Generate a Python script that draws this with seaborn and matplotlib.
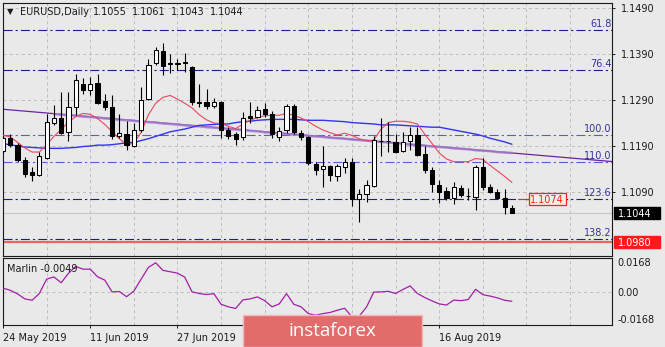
import numpy as np
import matplotlib
matplotlib.use("Agg")
import matplotlib.pyplot as plt
import matplotlib.transforms as mtransforms
from matplotlib.patches import Rectangle
import seaborn as sns

# ---------------- data ----------------
opens = [1.1178, 1.1206, 1.1191, 1.1159, 1.1132, 1.1127, 1.1164, 1.1239, 1.1249, 1.1219,
         1.1275, 1.1324, 1.1310, 1.1327, 1.1287, 1.1274, 1.1211, 1.1215, 1.1189, 1.1224,
         1.1291, 1.1369, 1.1396, 1.1369, 1.1368, 1.1369, 1.1360, 1.1284, 1.1285, 1.1277,
         1.1284, 1.1225, 1.1215, 1.1208, 1.1254, 1.1253, 1.1270, 1.1259, 1.1209, 1.1223,
         1.1276, 1.1217, 1.1209, 1.1151, 1.1140, 1.1145, 1.1124, 1.1144, 1.1154, 1.1075,
         1.1084, 1.1102, 1.1201, 1.1199, 1.1198, 1.1179, 1.1199, 1.1213, 1.1171, 1.1138,
         1.1104, 1.1092, 1.1077, 1.1097, 1.1081, 1.1079, 1.1144, 1.1099, 1.1090, 1.1077,
         1.1055]
highs = [1.1211, 1.1216, 1.1195, 1.1165, 1.1143, 1.1176, 1.1259, 1.1278, 1.1306, 1.1306,
         1.1346, 1.1337, 1.1339, 1.1346, 1.1302, 1.1300, 1.1258, 1.1243, 1.1239, 1.1317,
         1.1379, 1.1404, 1.1412, 1.1390, 1.1379, 1.1391, 1.1362, 1.1324, 1.1312, 1.1293,
         1.1286, 1.1230, 1.1219, 1.1263, 1.1285, 1.1276, 1.1282, 1.1265, 1.1231, 1.1280,
         1.1281, 1.1225, 1.1211, 1.1154, 1.1189, 1.1148, 1.1151, 1.1162, 1.1162, 1.1095,
         1.1115, 1.1211, 1.1249, 1.1241, 1.1216, 1.1219, 1.1230, 1.1230, 1.1189, 1.1143,
         1.1115, 1.1099, 1.1111, 1.1104, 1.1098, 1.1148, 1.1164, 1.1107, 1.1095, 1.1095,
         1.1061]
lows = [1.1174, 1.1187, 1.1154, 1.1122, 1.1114, 1.1124, 1.1161, 1.1235, 1.1215, 1.1200,
        1.1256, 1.1302, 1.1300, 1.1280, 1.1267, 1.1205, 1.1206, 1.1180, 1.1186, 1.1219,
        1.1289, 1.1365, 1.1343, 1.1348, 1.1354, 1.1350, 1.1278, 1.1274, 1.1269, 1.1272,
        1.1206, 1.1205, 1.1191, 1.1202, 1.1240, 1.1249, 1.1252, 1.1206, 1.1199, 1.1217,
        1.1215, 1.1202, 1.1148, 1.1126, 1.1100, 1.1112, 1.1112, 1.1130, 1.1058, 1.1025,
        1.1068, 1.1100, 1.1167, 1.1176, 1.1174, 1.1176, 1.1180, 1.1167, 1.1131, 1.1090,
        1.1066, 1.1072, 1.1064, 1.1079, 1.1072, 1.1050, 1.1093, 1.1086, 1.1073, 1.1042,
        1.1043]
closes = [1.1206, 1.1191, 1.1159, 1.1128, 1.1126, 1.1167, 1.1241, 1.1251, 1.1218, 1.1274,
          1.1332, 1.1311, 1.1324, 1.1283, 1.1274, 1.1211, 1.1218, 1.1192, 1.1225, 1.1290,
          1.1365, 1.1397, 1.1364, 1.1368, 1.1370, 1.1371, 1.1285, 1.1283, 1.1277, 1.1284,
          1.1225, 1.1211, 1.1205, 1.1249, 1.1250, 1.1268, 1.1258, 1.1215, 1.1222, 1.1276,
          1.1219, 1.1209, 1.1152, 1.1138, 1.1145, 1.1126, 1.1145, 1.1154, 1.1073, 1.1084,
          1.1105, 1.1202, 1.1200, 1.1200, 1.1177, 1.1198, 1.1213, 1.1169, 1.1138, 1.1107,
          1.1090, 1.1077, 1.1099, 1.1083, 1.1080, 1.1144, 1.1099, 1.1090, 1.1077, 1.1056,
          1.1044]

# fast moving average (red)
ma_fast = [1.1212, 1.1209, 1.1197, 1.1185, 1.1176, 1.1176, 1.1192, 1.1210, 1.1225, 1.1241,
           1.1253, 1.1260, 1.1258, 1.1249, 1.1236, 1.1220, 1.1205, 1.1192, 1.1195, 1.1219,
           1.1257, 1.1282, 1.1295, 1.1299, 1.1291, 1.1282, 1.1272, 1.1257, 1.1246, 1.1239,
           1.1238, 1.1232, 1.1227, 1.1237, 1.1245, 1.1251, 1.1255, 1.1256, 1.1256, 1.1260,
           1.1256, 1.1250, 1.1242, 1.1232, 1.1224, 1.1218, 1.1213, 1.1217, 1.1212, 1.1205,
           1.1200, 1.1202, 1.1226, 1.1240, 1.1243, 1.1243, 1.1241, 1.1237, 1.1215, 1.1195,
           1.1174, 1.1161, 1.1155, 1.1155, 1.1155, 1.1162, 1.1160, 1.1147, 1.1135, 1.1123,
           1.1110]
# medium moving average (blue)
ma_mid = [1.1194, 1.1192, 1.1189, 1.1187, 1.1186, 1.1185, 1.1184, 1.1184, 1.1184, 1.1185,
          1.1186, 1.1188, 1.1189, 1.1191, 1.1191, 1.1192, 1.1194, 1.1196, 1.1197, 1.1201,
          1.1205, 1.1210, 1.1215, 1.1220, 1.1223, 1.1226, 1.1230, 1.1234, 1.1235, 1.1236,
          1.1237, 1.1237, 1.1240, 1.1242, 1.1243, 1.1245, 1.1246, 1.1247, 1.1247, 1.1247,
          1.1247, 1.1246, 1.1245, 1.1245, 1.1245, 1.1244, 1.1243, 1.1242, 1.1240, 1.1239,
          1.1238, 1.1237, 1.1235, 1.1235, 1.1235, 1.1234, 1.1233, 1.1232, 1.1231, 1.1230,
          1.1230, 1.1227, 1.1224, 1.1221, 1.1218, 1.1215, 1.1211, 1.1206, 1.1202, 1.1198,
          1.1193]
# slow moving average (lavender), starts at bar 7
ma_slow_first = 7
ma_slow = [1.1259, 1.1257, 1.1256, 1.1255, 1.1253, 1.1252, 1.1251, 1.1249, 1.1248, 1.1246,
           1.1245, 1.1244, 1.1242, 1.1241, 1.1240, 1.1238, 1.1237, 1.1236, 1.1234, 1.1233,
           1.1232, 1.1230, 1.1229, 1.1228, 1.1226, 1.1225, 1.1224, 1.1222, 1.1221, 1.1219,
           1.1218, 1.1217, 1.1215, 1.1214, 1.1213, 1.1211, 1.1210, 1.1209, 1.1207, 1.1206,
           1.1205, 1.1203, 1.1202, 1.1201, 1.1199, 1.1198, 1.1197, 1.1195, 1.1194, 1.1192,
           1.1191, 1.1190, 1.1188, 1.1187, 1.1186, 1.1184, 1.1183, 1.1182, 1.1180, 1.1179,
           1.1178, 1.1176, 1.1175, 1.1174]

# trend line anchors (bar, price)
trend_bars = [0, 84]
trend_prices = [1.1269, 1.1155]

# Fibonacci levels
fib_labels = ["61.8", "76.4", "100.0", "110.0", "123.6", "138.2"]
fib_prices = [1.1441, 1.1354, 1.1214, 1.1155, 1.1074, 1.0987]
fib_colors = ["#1c1c8a", "#1c1c8a", "#5a5ad6", "#5a5ad6", "#1c1c8a", "#1c1c8a"]

support_price = 1.0980
marked_price = 1.1074

# Marlin oscillator
marlin = [0.0017, 0.0006, -0.0012, -0.0037, -0.0044, -0.0010, 0.0062, 0.0073, 0.0044, 0.0091,
          0.0126, 0.0112, 0.0112, 0.0074, 0.0057, -0.0002, 0.0000, -0.0026, 0.0002, 0.0062,
          0.0121, 0.0144, 0.0106, 0.0099, 0.0092, 0.0072, -0.0002, -0.0010, -0.0015, -0.0011,
          -0.0064, -0.0077, -0.0085, -0.0042, -0.0037, -0.0027, -0.0046, -0.0077, -0.0062, -0.0011,
          -0.0064, -0.0077, -0.0111, -0.0119, -0.0111, -0.0105, -0.0094, -0.0084, -0.0128, -0.0124,
          -0.0078, -0.0003, -0.0002, 0.0001, -0.0010, 0.0010, 0.0028, -0.0010, -0.0030, -0.0047,
          -0.0062, -0.0068, -0.0043, -0.0046, -0.0040, 0.0011, -0.0016, -0.0023, -0.0032, -0.0044,
          -0.0049]

price_ticks = [1.1490, 1.1390, 1.1290, 1.1190, 1.1090]
marlin_ticks = [0.0168, 0.0, -0.0168]
marlin_tick_labels = ["0.0168", "0.00", "-0.0168"]
date_ticks = [0, 12, 24, 60]
date_labels = ["24 May 2019", "11 Jun 2019", "27 Jun 2019", "16 Aug 2019"]
grid_every = 6

# ---------------- style ----------------
BG = "#e9e9e9"
INK = "#1a1a1a"
FS = 7.0
sns.set_style("white")
plt.rcParams["font.family"] = ["DejaVu Sans"]
plt.rcParams["lines.scale_dashes"] = False
plt.rcParams["axes.linewidth"] = 0.8

W, H = 665, 347
fig = plt.figure(figsize=(W / 100, H / 100), dpi=100, facecolor=BG)


def fx(px):
    return px / W


def fy(py):
    return 1 - py / H


ax = fig.add_axes([fx(2.5), fy(256), fx(612) - fx(2.5), fy(3) - fy(256)])
axm = fig.add_axes([fx(2.5), fy(325), fx(612) - fx(2.5), fy(258) - fy(325)])

n = len(closes)
idx = np.arange(n)
bar_px = 7.27
x0 = -0.07
x1 = x0 + 609.5 / bar_px

for a in (ax, axm):
    a.set_facecolor(BG)
    a.set_xlim(x0, x1)
    for s in a.spines.values():
        s.set_color(INK)
        s.set_linewidth(0.8)
        s.set_visible(True)

grid_kw = dict(color="#bdbdbd", lw=0.7, dashes=(2.2, 2.2), zorder=0)
for g in np.arange(0, x1, grid_every):
    ax.axvline(g, **grid_kw)
    axm.axvline(g, **grid_kw)
for p in price_ticks:
    ax.axhline(p, **grid_kw)
axm.axhline(0.0, **grid_kw)

# ---------------- price panel ----------------
ax.set_ylim(1.0950, 1.1500)

# Fibonacci levels with labels at the right edge
for lab, price, col in zip(fib_labels, fib_prices, fib_colors):
    ax.axhline(price, color=col, lw=0.8, dashes=(6.5, 2.2, 1.6, 2.2), zorder=1)
    ax.text(x1 - 0.1, price + 0.0002, lab, ha="right", va="bottom", fontsize=FS,
            color="#33339c", zorder=6)

# support level and bid line
ax.axhline(support_price, color="#f26262", lw=1.6, zorder=2)
ax.axhline(closes[-1], color="#c6c6c6", lw=0.8, zorder=1)

# trend line and moving averages
sns.lineplot(x=trend_bars, y=trend_prices, ax=ax, color="#6a22a3", lw=0.9,
             estimator=None, sort=False, zorder=2)
slow_idx = np.arange(ma_slow_first, ma_slow_first + len(ma_slow))
sns.lineplot(x=slow_idx, y=ma_slow, ax=ax, color="#a47ccc", lw=1.8, alpha=0.85,
             estimator=None, sort=False, zorder=2)
sns.lineplot(x=idx, y=ma_mid, ax=ax, color="#3333f0", lw=1.0,
             estimator=None, sort=False, zorder=3)
sns.lineplot(x=idx, y=ma_fast, ax=ax, color="#e8475f", lw=0.8,
             estimator=None, sort=False, zorder=3)

# candlesticks
o = np.array(opens)
h = np.array(highs)
lo = np.array(lows)
c = np.array(closes)
up = c >= o
ax.vlines(idx, lo, h, color="black", lw=0.8, zorder=4)
body_bottom = np.minimum(o, c)
body_h = np.maximum(np.abs(c - o), 0.00003)
ax.bar(idx[up], body_h[up], bottom=body_bottom[up], width=0.58, color="white",
       edgecolor="black", linewidth=0.75, zorder=5)
ax.bar(idx[~up], body_h[~up], bottom=body_bottom[~up], width=0.58, color="black",
       edgecolor="black", linewidth=0.75, zorder=5)

# right price scale
ax.yaxis.tick_right()
ax.set_yticks(price_ticks)
ax.set_yticklabels([f"{p:.4f}" for p in price_ticks])
ax.tick_params(axis="y", which="both", right=True, left=False, direction="out",
               length=2.5, width=0.7, pad=4, labelsize=FS, colors=INK)
ax.set_xticks([])
ax.set_xlabel("")
ax.set_ylabel("")

# value boxes on the price scale
blend = mtransforms.blended_transform_factory(ax.transAxes, ax.transData)
px_price = 0.055 / 253.0
for price, face in ((closes[-1], "black"), (support_price, "#ff1a1a")):
    hh = 11.5 * px_price
    ax.add_patch(Rectangle((1.0 + 1.5 / 609.5, price - hh / 2), 46 / 609.5, hh,
                           transform=blend, facecolor=face, edgecolor=face,
                           clip_on=False, zorder=7))
    ax.text(1.0 + 6.0 / 609.5, price, f"{price:.4f}", transform=blend, ha="left",
            va="center_baseline", fontsize=FS, color="white", zorder=8, clip_on=False)

# marked price label inside the chart
box_l, box_r = 72.3, 77.4
bh = 12.5 * px_price
ax.plot([70.9, box_l], [marked_price, marked_price], color="#ff2020", lw=0.8, zorder=6)
ax.add_patch(Rectangle((box_l, marked_price - bh / 2), box_r - box_l, bh,
                       facecolor="#efefef", edgecolor="#ff2020", lw=0.9, zorder=6))
ax.text((box_l + box_r) / 2, marked_price, f"{marked_price:.4f}", ha="center",
        va="center_baseline", fontsize=FS, color="#ff2020", zorder=7)

# ---------------- Marlin panel ----------------
axm.set_ylim(-0.0168, 0.0168)
sns.lineplot(x=idx, y=marlin, ax=axm, color="#a21fa8", lw=0.9,
             estimator=None, sort=False, zorder=3)
axm.yaxis.tick_right()
axm.set_yticks(marlin_ticks)
axm.set_yticklabels(marlin_tick_labels)
axm.tick_params(axis="y", right=True, left=False, direction="out", length=0,
                pad=4, labelsize=FS, colors=INK)
ylabs = axm.get_yticklabels()
ylabs[0].set_va("top")
ylabs[-1].set_va("bottom")
axm.set_xticks(date_ticks)
axm.set_xticklabels(date_labels)
axm.tick_params(axis="x", bottom=True, direction="out", length=2.5, width=0.7,
                pad=3, labelsize=FS, colors=INK)
for t in axm.get_xticklabels():
    t.set_ha("left")
axm.set_xlabel("")
axm.set_ylabel("")

# ---------------- header texts ----------------
fig.text(fx(6.5), fy(12), "\u25BC", fontsize=6, va="center", ha="left", color=INK)
fig.text(fx(20), fy(12), "EURUSD,Daily", fontsize=FS, va="center", ha="left", color=INK)
for xp, val in zip((93, 132, 171, 210), (opens[-1], highs[-1], lows[-1], closes[-1])):
    fig.text(fx(xp), fy(12), f"{val:.4f}", fontsize=FS, va="center", ha="left", color=INK)
fig.text(fx(7), fy(268.5), f"Marlin {marlin[-1]:.4f}", fontsize=FS, va="center",
         ha="left", color=INK)

# ---------------- watermark ----------------
fig.patches.append(Rectangle((fx(243), fy(347.5)), fx(422) - fx(243), fy(315) - fy(347.5),
                             transform=fig.transFigure, facecolor="#e26b6b",
                             edgecolor="#f2b8b8", lw=1.0, zorder=10))
fig.text(fx(332), fy(330.5), "instaforex", fontsize=13.5, color="white",
         family=["Open Sans", "DejaVu Sans"], ha="center", va="center", zorder=11)

fig.savefig("out.png", dpi=100, facecolor=BG)
